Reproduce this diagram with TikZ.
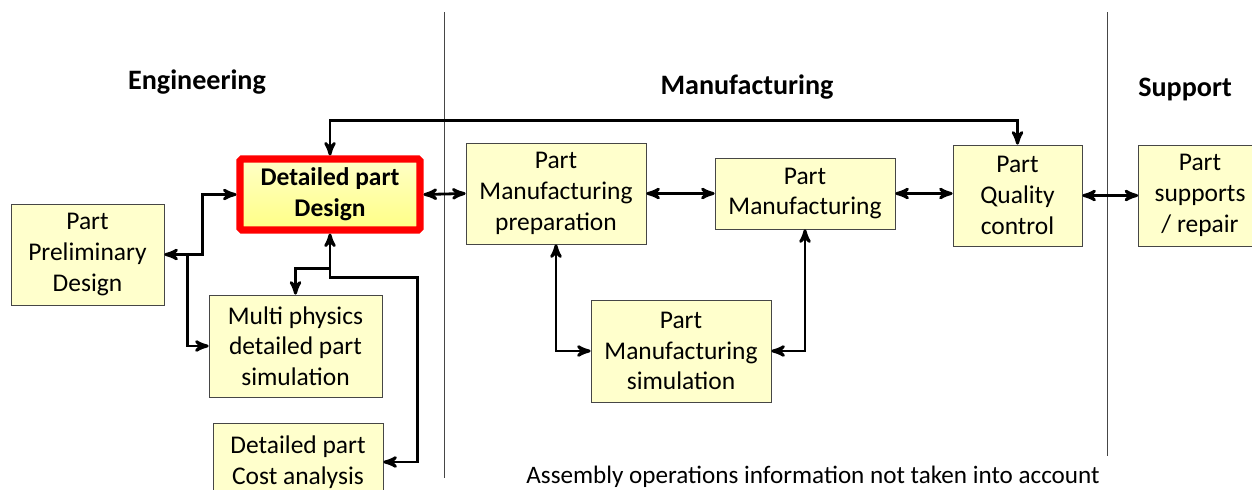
\documentclass[tikz,border=0pt]{standalone}
\usepackage{fontspec}
\setmainfont{Carlito}
\usetikzlibrary{calc}
\usetikzlibrary{arrows}

\definecolor{boxfill}{RGB}{255,255,204}
\definecolor{boxline}{RGB}{70,70,70}
\definecolor{hotred}{RGB}{255,0,0}

\tikzset{
  block/.style={draw=boxline, fill=boxfill, thin, align=center, inner sep=1pt,
    font=\fontsize{14.5}{17.5}\selectfont},
  keyblock/.style={block, draw=hotred, line width=4pt, rounded corners=1pt,
    top color=yellow!22, bottom color=yellow!48, font=\fontsize{14.5}{17.5}\selectfont\bfseries},
  link/.style={black, line width=1.6pt, >=stealth'},
  heading/.style={font=\fontsize{16}{19}\selectfont\bfseries},
  divider/.style={boxline, thin}
}

\begin{document}
\begin{tikzpicture}
\useasboundingbox (0,0) rectangle (25.04,-9.78);
\begin{scope}
\clip (0,0) rectangle (25.04,-9.78);
% separators
\draw[divider] (8.88,-0.24) -- (8.88,-9.56);
\draw[divider] (22.14,-0.24) -- (22.14,-9.12);
% headings
\node[heading] (eng) at (3.94,-1.64) {Engineering};
\node[heading] (man) at (14.94,-1.74) {Manufacturing};
\node[heading] (sup) at (23.7,-1.78) {Support};
% boxes
\node[block, minimum width=3.06cm, minimum height=2.02cm] (prelim) at (1.75,-5.09) {Part\\Preliminary\\Design};
\node[keyblock, minimum width=3.6cm, minimum height=1.42cm] (design) at (6.6,-3.89) {Detailed part\\Design};
\node[block, minimum width=3.46cm, minimum height=2.04cm] (multi) at (5.91,-6.92) {Multi physics\\detailed part\\simulation};
\node[block, minimum width=3.4cm, minimum height=1.56cm] (cost) at (5.96,-9.24) {Detailed part\\Cost analysis};
\node[block, minimum width=3.6cm, minimum height=2.02cm] (prep) at (11.12,-3.87) {Part\\Manufacturing\\preparation};
\node[block, minimum width=3.6cm, minimum height=1.42cm] (manuf) at (16.1,-3.87) {Part\\Manufacturing};
\node[block, minimum width=3.6cm, minimum height=2.04cm] (sim) at (13.62,-7.02) {Part\\Manufacturing\\simulation};
\node[block, minimum width=2.58cm, minimum height=2.02cm] (quality) at (20.35,-3.91) {Part\\Quality\\control};
\node[block, minimum width=2.46cm, minimum height=2.02cm] (supports) at (24.0,-3.91) {Part\\supports\\/ repair};
% links
\draw[link,<->] (design.north) -- ++(0,0.7) -| (quality.north);
\draw[link,<->] (design.east) -- (prep.west);
\draw[link,<->] (prep.east) -- (manuf.west);
\draw[link,<->] (manuf.east) -- (manuf.east -| quality.west);
\draw[link,<->] (quality.east) -- (supports.west);
\coordinate (jl) at ([xshift=0.46cm]prelim.east);
\draw[link,<->] (prelim.east) -- ++(0.76,0) |- (design.west);
\draw[link,->] (jl) |- (multi.west);
\coordinate (jd) at ([yshift=-0.7cm]design.south);
\draw[link,<->] (design.south) -- ++(0,-0.88) -| ([xshift=0.68cm]cost.east) -- (cost.east);
\draw[link,->] (jd) -| (multi.north);
\draw[link,<->] (prep.south) |- (sim.west);
\draw[link,<->] (manuf.south) |- (sim.east);
% note
\node[font=\fontsize{14.3}{17}\selectfont] (note) at (16.26,-9.54) {Assembly operations information not taken into account};
\end{scope}
\end{tikzpicture}
\end{document}
